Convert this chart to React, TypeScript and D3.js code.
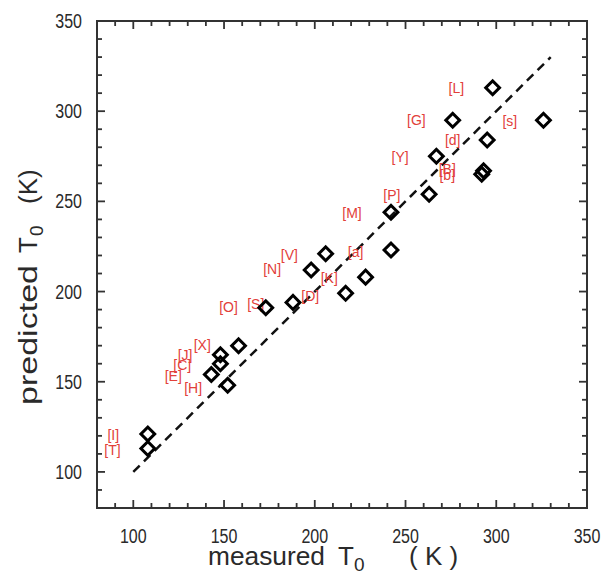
import React from "react";
import * as d3 from "d3";

// measured vs predicted T0 (K)
const measured = [108, 108, 143, 148, 148, 152, 158, 173, 188, 198, 206, 217, 228, 242, 242, 263, 267, 276, 292, 293, 295, 298, 326];
const predicted = [121, 113, 154, 160, 165, 148, 170, 191, 194, 212, 221, 199, 208, 244, 223, 254, 275, 295, 265, 267, 284, 313, 295];

// sample tags, anchored in data units
const tagText = ["[L]", "[G]", "[s]", "[d]", "[Y]", "[B]", "[b]", "[P]", "[M]", "[a]", "[V]", "[N]", "[K]", "[D]", "[S]", "[O]", "[X]", "[J]", "[C]", "[E]", "[H]", "[I]", "[T]"];
const tagX = [278, 256, 307.5, 276, 247, 273, 273, 242.5, 220.5, 222.5, 186, 176.5, 208, 197.5, 167.5, 152.5, 138, 128.5, 127, 122, 133, 89, 88.5];
const tagY = [313, 295, 294.5, 284, 274.5, 268, 264.5, 253.5, 243.5, 222, 220, 212.5, 207.5, 197.5, 193, 191.5, 170.5, 165, 159.5, 153, 146.5, 120.5, 112];

const refLine = [100, 330];
const tickValues = d3.range(80, 351, 10);
const tickLabels = [100, 150, 200, 250, 300, 350];

const W = 603;
const H = 572;
const M = { left: 97, right: 587, top: 21, bottom: 508 };

export default function App() {
  const x = d3.scaleLinear().domain([80, 350]).range([M.left, M.right]);
  const y = d3.scaleLinear().domain([80, 350]).range([M.bottom, M.top]);

  const line = d3.line<number>().x(d => x(d)).y(d => y(d));
  const diamond = d3.symbol().type(d3.symbolSquare).size(95)()!;

  const axisColor = "#333";
  const red = "#e2403a";

  return (
    <svg width={W} height={H} style={{ position: "absolute", left: 0, top: 0, background: "#fff" }}
      fontFamily="'Liberation Sans', Arial, sans-serif">
      {/* ticks on all four sides, pointing inward */}
      {tickValues.map(v => {
        const len = v % 50 === 0 ? 8 : 5;
        return (
          <g key={"t" + v} stroke={axisColor} strokeWidth={1.8}>
            <line x1={x(v)} x2={x(v)} y1={M.bottom} y2={M.bottom - len} />
            <line x1={x(v)} x2={x(v)} y1={M.top} y2={M.top + len} />
            <line y1={y(v)} y2={y(v)} x1={M.left} x2={M.left + len} />
            <line y1={y(v)} y2={y(v)} x1={M.right} x2={M.right - len} />
          </g>
        );
      })}
      <rect x={M.left} y={M.top} width={M.right - M.left} height={M.bottom - M.top}
        fill="none" stroke={axisColor} strokeWidth={2} />

      {/* tick labels */}
      {tickLabels.map(v => (
        <g key={"l" + v} fill="#2a2a2a" fontSize={20}>
          <text transform={`translate(${x(v)},${M.bottom + 35}) scale(0.8,1)`} textAnchor="middle">{v}</text>
          <text transform={`translate(${M.left - 15},${y(v) + 7}) scale(0.8,1)`} textAnchor="end">{v}</text>
        </g>
      ))}

      {/* axis titles */}
      <g fill="#2a2a2a" fontSize={26}>
        <text x={208} y={565} textLength={117} lengthAdjust="spacingAndGlyphs">measured</text>
        <text x={338} y={565}>T</text>
        <text x={354} y={571} fontSize={19}>0</text>
        <text x={409} y={565} style={{ whiteSpace: "pre" }}>( K )</text>

        <text transform="translate(37,405) rotate(-90)" textLength={140} lengthAdjust="spacingAndGlyphs">predicted</text>
        <text transform="translate(37,253) rotate(-90)">T</text>
        <text transform="translate(43,236) rotate(-90)" fontSize={19}>0</text>
        <text transform="translate(37,204) rotate(-90)">(K)</text>
      </g>

      {/* y = x reference */}
      <path d={line(refLine)!} fill="none" stroke="#111" strokeWidth={2.5} strokeDasharray="9,6" />

      {/* sample tags */}
      {tagText.map((t, i) => (
        <text key={"g" + i} x={x(tagX[i])} y={y(tagY[i]) + 5} fill={red} fontSize={14} textAnchor="middle">{t}</text>
      ))}

      {/* data points */}
      {measured.map((m, i) => (
        <path key={"p" + i} d={diamond}
          transform={`translate(${x(m)},${y(predicted[i])}) rotate(45)`}
          fill="none" stroke="#000" strokeWidth={3} />
      ))}
    </svg>
  );
}
